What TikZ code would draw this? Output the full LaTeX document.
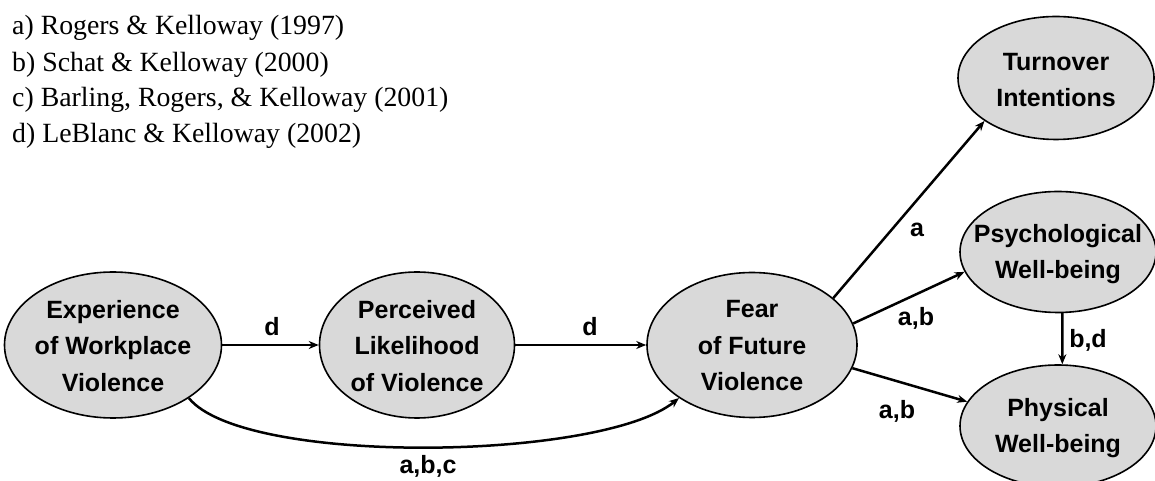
\documentclass[tikz,border=0pt]{standalone}
\usepackage{fontspec}
\setmainfont{Liberation Serif}
\setsansfont{Liberation Sans}
\usetikzlibrary{shapes.geometric,arrows.meta}
\definecolor{bubblegray}{HTML}{D9D9D9}

\begin{document}
\begin{tikzpicture}[x=1pt,y=1pt,
  bubble/.style={ellipse, draw=black, line width=1.6pt, fill=bubblegray, inner sep=0pt},
  bubbletext/.style={align=center, inner sep=0pt,
    font=\sffamily\bfseries\fontsize{25}{36.5}\selectfont},
  pathlabel/.style={inner sep=0pt, font=\sffamily\bfseries\fontsize{25}{30}\selectfont},
  link/.style={line width=2.5pt, -{Stealth[length=10pt,width=8pt]}},
  source/.style={anchor=base west, inner sep=0pt, font=\fontsize{27.8}{33}\selectfont}]

\useasboundingbox (0,0) rectangle (1155,481);

% study references
\node[source] (src-a) at (12,446) {a) Rogers \& Kelloway (1997)};
\node[source] (src-b) at (12,409) {b) Schat \& Kelloway (2000)};
\node[source] (src-c) at (12,374) {c) Barling, Rogers, \& Kelloway (2001)};
\node[source] (src-d) at (12,338) {d) LeBlanc \& Kelloway (2002)};

% constructs
\node[bubble, minimum width=217, minimum height=146] (exp)   at (113,136) {};
\node[bubble, minimum width=195, minimum height=146] (perc)  at (417,136) {};
\node[bubble, minimum width=210, minimum height=145] (fear)  at (752,136) {};
\node[bubble, minimum width=196, minimum height=123] (turn)  at (1056,403) {};
\node[bubble, minimum width=196, minimum height=121] (psych) at (1058,229) {};
\node[bubble, minimum width=196, minimum height=122] (phys)  at (1058,55) {};

\node[bubbletext] (exp-t)   at ([yshift=-1]exp.center)   {Experience\\of Workplace\\Violence};
\node[bubbletext] (perc-t)  at ([yshift=-1]perc.center)  {Perceived\\Likelihood\\of Violence};
\node[bubbletext] (fear-t)  at ([yshift=-1]fear.center)  {Fear\\of Future\\Violence};
\node[bubbletext] (turn-t)  at ([yshift=-2]turn.center)  {Turnover\\Intentions};
\node[bubbletext] (psych-t) at ([yshift=-2]psych.center) {Psychological\\Well-being};
\node[bubbletext] (phys-t)  at ([yshift=-2]phys.center)  {Physical\\Well-being};

% paths
\draw[link] (exp.east) -- (perc.west);
\draw[link] (perc.east) -- (fear.west);
\draw[link] (exp.-35) .. controls +(55,-68) and +(-78,-63) .. (fear.216);
\draw[link] (fear.30.6) -- (turn.211.6);
\draw[link] (fear.12) -- (psych.192);
\draw[link] (fear.-13.6) -- (phys.165.8);
\draw[link] (psych.-86) -- (phys.86);

% path labels
\node[pathlabel] (l-d1)   at (272,154) {d};
\node[pathlabel] (l-d2)   at (590,154) {d};
\node[pathlabel] (l-abc)  at (428,15)  {a,b,c};
\node[pathlabel] (l-a)    at (917,251) {a};
\node[pathlabel] (l-ab1)  at (916,163) {a,b};
\node[pathlabel] (l-ab2)  at (897,70)  {a,b};
\node[pathlabel] (l-bd)   at (1088,141) {b,d};
\end{tikzpicture}
\end{document}
